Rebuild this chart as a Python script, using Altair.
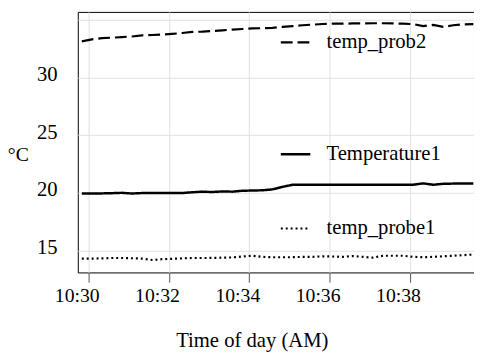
import altair as alt
import pandas as pd

# ---- data ----
time_of_day = [
    "10:29:50", "10:30:05", "10:30:20", "10:30:35", "10:30:50", "10:31:05", "10:31:20", "10:31:35",
    "10:31:50", "10:32:05", "10:32:20", "10:32:35", "10:32:50", "10:33:05", "10:33:20", "10:33:35",
    "10:33:50", "10:34:05", "10:34:20", "10:34:35", "10:34:50", "10:35:05", "10:35:20", "10:35:35",
    "10:35:50", "10:36:05", "10:36:20", "10:36:35", "10:36:50", "10:37:05", "10:37:20", "10:37:35",
    "10:37:50", "10:38:05", "10:38:20", "10:38:35", "10:38:50", "10:39:05", "10:39:20", "10:39:35",
]

temp_prob2 = [
    33.13, 33.30, 33.41, 33.45, 33.50, 33.55, 33.65, 33.68,
    33.72, 33.78, 33.85, 33.95, 33.97, 34.02, 34.08, 34.15,
    34.20, 34.25, 34.27, 34.30, 34.38, 34.45, 34.52, 34.58,
    34.63, 34.66, 34.66, 34.68, 34.68, 34.70, 34.70, 34.68,
    34.66, 34.62, 34.45, 34.55, 34.38, 34.52, 34.60, 34.62,
]

temperature1 = [
    19.95, 19.95, 19.95, 19.97, 20.00, 19.94, 19.98, 19.98,
    19.98, 19.98, 19.98, 20.05, 20.10, 20.07, 20.12, 20.10,
    20.18, 20.20, 20.22, 20.30, 20.52, 20.70, 20.70, 20.70,
    20.70, 20.70, 20.70, 20.70, 20.70, 20.70, 20.70, 20.70,
    20.70, 20.70, 20.82, 20.70, 20.78, 20.80, 20.80, 20.80,
]

temp_probe1 = [
    14.30, 14.30, 14.32, 14.35, 14.35, 14.33, 14.30, 14.18,
    14.25, 14.28, 14.32, 14.35, 14.35, 14.36, 14.38, 14.40,
    14.48, 14.55, 14.45, 14.42, 14.42, 14.42, 14.45, 14.45,
    14.50, 14.48, 14.45, 14.52, 14.45, 14.38, 14.55, 14.55,
    14.55, 14.45, 14.42, 14.45, 14.50, 14.55, 14.60, 14.65,
]

series_names = ["temp_prob2", "Temperature1", "temp_probe1"]
series_values = [temp_prob2, temperature1, temp_probe1]
x_tick_minutes = [30, 32, 34, 36, 38]
y_tick_values = [15, 20, 25, 30, 35]

# ---- styling ----
FONT = "Liberation Serif"
W, H = 403, 265
dashes = [[12, 5], [1, 0], [2, 3]]
widths = [2.2, 2.5, 2.2]
legend_pos = [(205, 14.5), (205, 128.3), (205, 203.8)]


def dt(m, s=0):
    return alt.DateTime(year=2024, month=1, date=1, hours=10, minutes=m, seconds=s)


x_axis = alt.Axis(
    values=[dt(m) for m in x_tick_minutes],
    format="%H:%M",
    grid=True, gridColor="#e0e0e0", gridWidth=1,
    domain=False,
    ticks=True, tickSize=10, tickColor="#555555", tickWidth=1,
    labelFont=FONT, labelFontSize=20, labelColor="black",
    labelBaseline="alphabetic", labelPadding=20, labelOffset=-12,
    labelFlush=False, labelOverlap=False,
    titleFont=FONT, titleFontSize=21, titleFontWeight="normal", titleColor="black",
    titleX=177, titleY=75, titleAlign="center", titleBaseline="alphabetic",
)

y_axis = alt.Axis(
    values=y_tick_values,
    labelExpr="datum.value == 35 ? '' : datum.label",
    grid=True, gridColor="#e0e0e0", gridWidth=1,
    domain=False,
    ticks=False, tickSize=0,
    labelFont=FONT, labelFontSize=21, labelColor="black",
    labelBaseline="alphabetic", labelPadding=21, labelOffset=3,
    labelFlush=False, labelOverlap=False,
    titleFont=FONT, titleFontSize=20, titleFontWeight="normal", titleColor="black",
    titleAngle=0, titleX=-61, titleY=151, titleAlign="center", titleBaseline="alphabetic",
)

layers = []
for name, vals, dash, sw, (lx, ly) in zip(series_names, series_values, dashes, widths, legend_pos):
    df = pd.DataFrame({
        "time": ["2024-01-01T" + t for t in time_of_day],
        "temp": vals,
        "series": name,
    })
    layer = alt.Chart(df).mark_line(color="black", strokeWidth=sw, clip=True).encode(
        x=alt.X("time:T", title="Time of day (AM)",
                scale=alt.Scale(domain=[dt(29, 44), dt(39, 36)]), axis=x_axis),
        y=alt.Y("temp:Q", title="°C",
                scale=alt.Scale(domain=[13.1, 35.68], nice=False, zero=False), axis=y_axis),
        strokeDash=alt.StrokeDash(
            "series:N",
            scale=alt.Scale(domain=[name], range=[dash]),
            legend=alt.Legend(
                orient="none", legendX=lx, legendY=ly, title=None, padding=0,
                symbolType="stroke", symbolSize=900, symbolStrokeWidth=sw,
                symbolStrokeColor="black",
                labelFont=FONT, labelFontSize=21, labelColor="black", labelOffset=15,
            ),
        ),
    )
    layers.append(layer)

chart = alt.layer(*layers).resolve_scale(strokeDash="independent").resolve_legend(
    strokeDash="independent"
).properties(
    width=W, height=H,
    padding={"left": 71, "top": 1, "right": 0, "bottom": 81},
    autosize=alt.AutoSizeParams(type="none"),
    background="white",
).configure_view(stroke="black", strokeWidth=1)

chart.save("out.html", embed_options={"renderer": "svg", "actions": False})
